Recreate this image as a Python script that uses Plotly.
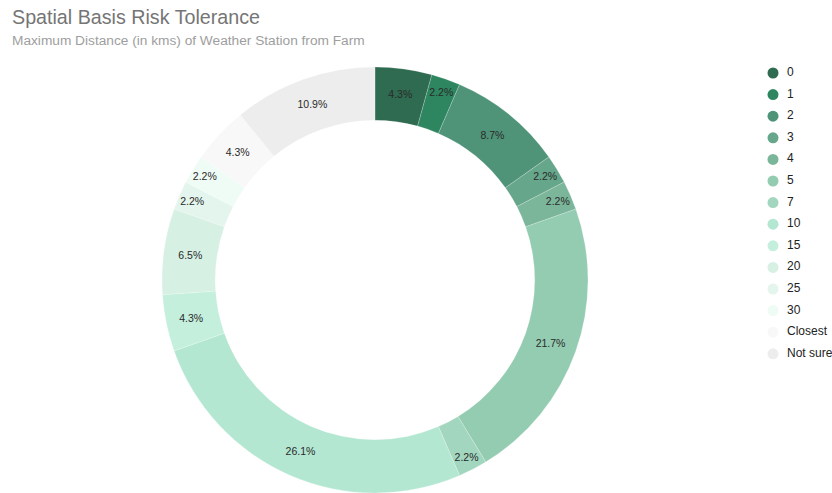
import plotly.graph_objects as go

labels = ["0", "1", "2", "3", "4", "5", "7", "10", "15", "20", "25", "30", "Closest", "Not sure"]
percents = [4.3, 2.2, 8.7, 2.2, 2.2, 21.7, 2.2, 26.1, 4.3, 6.5, 2.2, 2.2, 4.3, 10.9]
colors = ["#2f6b50", "#2e8660", "#4f9478", "#66a68a", "#7bb69a", "#94ccb2", "#a2d6be",
          "#b3e7d2", "#c4efdd", "#d6f0e4", "#e3f5ed", "#effcf5", "#f8f8f8", "#ededed"]

FONT = "Liberation Sans, Arial, sans-serif"
W, H = 832, 493

fig = go.Figure()
fig.add_trace(go.Pie(
    labels=labels, values=percents, sort=False, direction="clockwise", rotation=0,
    hole=0.75, marker=dict(colors=colors, line=dict(color="rgba(255,255,255,0.4)", width=0.5)),
    textposition="inside", insidetextorientation="horizontal",
    texttemplate="%{value:.1f}%", textfont=dict(size=10.5, color="#2a2a2a", family=FONT),
    showlegend=False, domain=dict(x=[0.15, 0.7514], y=[0, 426/H]),
    hoverinfo="label+percent",
))

# custom legend drawn in its own small axis
idx = list(range(len(labels)))
fig.add_trace(go.Scatter(x=[13]*len(labels), y=idx, mode="markers",
                         marker=dict(symbol="circle", size=11, color=colors),
                         showlegend=False, hoverinfo="skip"))
fig.add_trace(go.Scatter(x=[27]*len(labels), y=idx, mode="text", text=labels,
                         textposition="middle right",
                         textfont=dict(size=12, color="#222222", family=FONT),
                         showlegend=False, hoverinfo="skip"))

top_px = 73 - 10.8
bot_px = 73 + 13*21.6 + 10.8
fig.update_layout(
    width=W, height=H,
    margin=dict(l=0, r=0, t=0, b=0, autoexpand=False),
    paper_bgcolor="white", plot_bgcolor="rgba(0,0,0,0)",
    font=dict(family=FONT, color="#222222"),
    uniformtext=dict(minsize=10.5, mode="show"),
    xaxis=dict(visible=False, domain=[760/W, 1], range=[0, 72], fixedrange=True),
    yaxis=dict(visible=False, domain=[1 - bot_px/H, 1 - top_px/H], range=[13.5, -0.5], fixedrange=True),
)
fig.add_annotation(text="Spatial Basis Risk Tolerance", xref="paper", yref="paper",
                   x=10/W, y=1 - 17/H, xanchor="left", yanchor="middle",
                   showarrow=False, font=dict(size=19.7, color="#757575", family=FONT))
fig.add_annotation(text="Maximum Distance (in kms) of Weather Station from Farm", xref="paper", yref="paper",
                   x=10/W, y=1 - 41/H, xanchor="left", yanchor="middle",
                   showarrow=False, font=dict(size=13.7, color="#9e9e9e", family=FONT))

fig.write_html("out.html", config={"displayModeBar": False},
               post_script="document.body.style.margin='0';document.body.style.overflow='hidden';")
